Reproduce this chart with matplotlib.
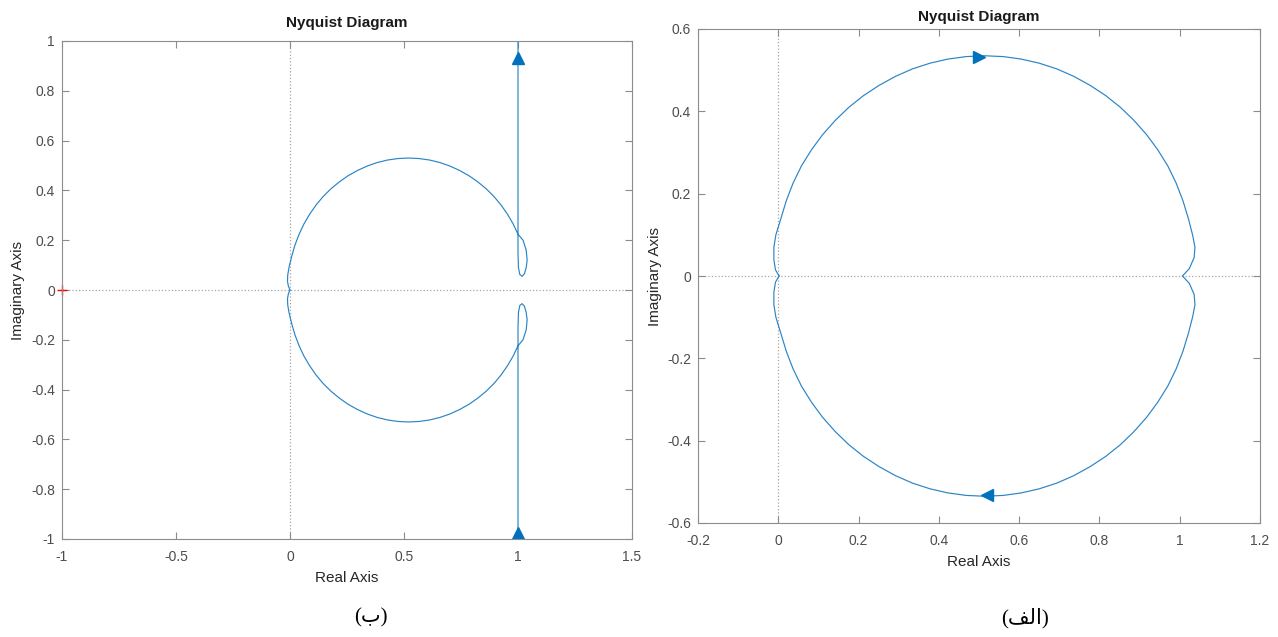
import matplotlib
matplotlib.use("Agg")
import matplotlib.pyplot as plt
import numpy as np

plt.rcParams['font.family'] = ['Liberation Sans', 'DejaVu Sans']

# panel (b): upper branch, from +j-infinity down x=1, small loop, big circle, into origin
b_re = [1.000, 1.000, 1.000, 1.000, 1.002, 1.008, 1.018, 1.028, 1.036, 1.040,
        1.036, 1.022, 1.000, 0.979, 0.954, 0.926, 0.895, 0.861, 0.824, 0.785,
        0.744, 0.701, 0.657, 0.612, 0.566, 0.520, 0.474, 0.428, 0.383, 0.339,
        0.296, 0.255, 0.216, 0.179, 0.145, 0.114, 0.086, 0.061, 0.040, 0.022,
        0.008, -0.004, -0.010, -0.011, -0.007, 0.000]
b_im = [1.000, 0.600, 0.300, 0.150, 0.090, 0.062, 0.055, 0.065, 0.090, 0.120,
        0.160, 0.200, 0.224, 0.265, 0.304, 0.341, 0.375, 0.406, 0.434, 0.459,
        0.480, 0.498, 0.512, 0.522, 0.528, 0.530, 0.528, 0.522, 0.512, 0.498,
        0.480, 0.459, 0.434, 0.406, 0.375, 0.341, 0.304, 0.265, 0.224, 0.181,
        0.137, 0.092, 0.060, 0.035, 0.015, 0.000]
b_arrow_re = [1.0, 1.0]
b_arrow_im = [0.93, -0.975]

# panel (a): upper branch, left cusp over the top to the right cusp
a_re = [0.002, -0.007, -0.011, -0.011, -0.006, 0.006, 0.020, 0.037, 0.058, 0.083,
        0.111, 0.142, 0.176, 0.212, 0.251, 0.292, 0.334, 0.378, 0.423, 0.468,
        0.514, 0.560, 0.605, 0.650, 0.694, 0.736, 0.777, 0.816, 0.852, 0.886,
        0.917, 0.945, 0.970, 0.991, 1.008, 1.022, 1.032, 1.038, 1.036, 1.024, 1.007]
a_im = [0.000, 0.015, 0.040, 0.070, 0.100, 0.138, 0.183, 0.226, 0.268, 0.307,
        0.344, 0.378, 0.410, 0.438, 0.463, 0.485, 0.503, 0.517, 0.527, 0.533,
        0.535, 0.533, 0.527, 0.517, 0.503, 0.485, 0.463, 0.438, 0.410, 0.378,
        0.344, 0.307, 0.268, 0.226, 0.183, 0.138, 0.100, 0.070, 0.045, 0.018, 0.000]
a_arrow_top = (0.50, 0.533)
a_arrow_bot = (0.52, -0.533)

line_c = '#2a84c6'
marker_c = '#0072BD'
spine_c = '#8c8c8c'
text_c = '#4d4d4d'


def style_axes(ax, xlim, ylim, xticks, yticks, title_pad):
    ax.set_xlim(xlim)
    ax.set_ylim(ylim)
    ax.set_xticks(xticks)
    ax.set_yticks(yticks)
    ax.set_xticklabels([f'{t:g}' for t in xticks])
    ax.set_yticklabels([f'{t:g}' for t in yticks])
    ax.tick_params(direction='in', length=5, width=0.8, color=spine_c,
                   labelcolor=text_c, labelsize=10, top=True, right=True)
    ax.tick_params(axis='x', pad=8)
    ax.tick_params(axis='y', pad=5)
    for s in ax.spines.values():
        s.set_color(spine_c)
        s.set_linewidth(0.8)
    ax.axhline(0, color='#a6a6a6', ls=':', lw=0.9, zorder=0)
    ax.axvline(0, color='#a6a6a6', ls=':', lw=0.9, zorder=0)
    ax.set_title('Nyquist Diagram', fontsize=11, fontweight='bold',
                 color='#1a1a1a', pad=title_pad)
    ax.set_xlabel('Real Axis', fontsize=11, color='#262626', labelpad=5)
    ax.set_ylabel('Imaginary Axis', fontsize=11, color='#262626', labelpad=4)


fig = plt.figure(figsize=(12.78, 6.37), dpi=100)

# --- left panel (b)
ax1 = fig.add_axes([62 / 1278, 98 / 637, 570 / 1278, 498 / 637])
br, bi = np.array(b_re), np.array(b_im)
ax1.plot(br, bi, color=line_c, lw=0.85)
ax1.plot(br, -bi, color=line_c, lw=0.85)
ax1.plot(b_arrow_re, b_arrow_im, ls='none', marker='^', ms=9, color=marker_c)
ax1.plot([-1], [0], marker='+', ms=7, mew=1.0, color='red', clip_on=False)
style_axes(ax1, (-1, 1.5), (-1, 1),
           [-1, -0.5, 0, 0.5, 1, 1.5],
           [-1, -0.8, -0.6, -0.4, -0.2, 0, 0.2, 0.4, 0.6, 0.8, 1], 10)

# --- right panel (a)
ax2 = fig.add_axes([698 / 1278, 114 / 637, 562 / 1278, 494 / 637])
ar, ai = np.array(a_re), np.array(a_im)
ax2.plot(ar, ai, color=line_c, lw=0.85)
ax2.plot(ar, -ai, color=line_c, lw=0.85)
ax2.plot([a_arrow_top[0]], [a_arrow_top[1]], marker='>', ms=8, color=marker_c)
ax2.plot([a_arrow_bot[0]], [a_arrow_bot[1]], marker='<', ms=8, color=marker_c)
style_axes(ax2, (-0.2, 1.2), (-0.6, 0.6),
           [-0.2, 0, 0.2, 0.4, 0.6, 0.8, 1, 1.2],
           [-0.6, -0.4, -0.2, 0, 0.2, 0.4, 0.6], 6)

# panel captions (Arabic letters in visual order, presentation forms)
cap_font = ['Liberation Serif', 'DejaVu Sans']
fig.text(371 / 1278, 1 - 618 / 637, '(\u0628)', ha='center', va='center',
         fontsize=15, family=cap_font)
fig.text(1025 / 1278, 1 - 618 / 637, '(\uFED2\uFEDF\u0627)', ha='center', va='center',
         fontsize=15, family=cap_font)

fig.savefig('out.png', dpi=100)
